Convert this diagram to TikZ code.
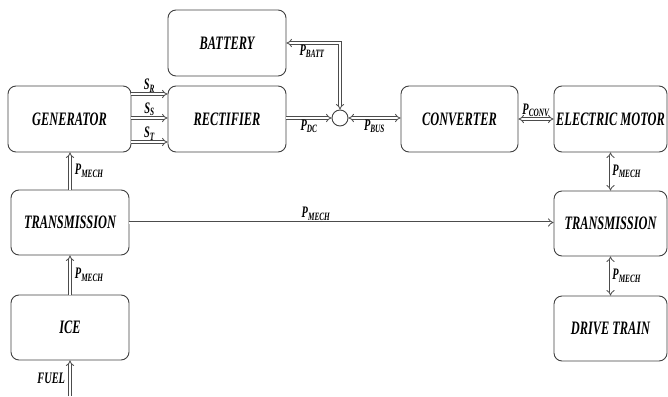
\documentclass[tikz,border=0pt]{standalone}
\usepackage{fontspec}
\setmainfont{LiberationSerif}[Extension=.ttf, UprightFont=*-Regular, BoldFont=*-Bold, ItalicFont=*-Italic, BoldItalicFont=*-BoldItalic, FakeStretch=0.65]
\usetikzlibrary{arrows.meta,positioning,calc}
\newcommand{\pw}[1]{P\textsubscript{#1}}

\begin{document}
\begin{tikzpicture}[x=1pt, y=-1pt,
    blk/.style={draw=black!75, line width=0.9pt, rounded corners=8pt, minimum height=66pt, inner sep=0pt, font=\fontsize{19}{22}\selectfont\bfseries\itshape},
    flow/.style={draw=black!70, line width=0.8pt, double, double distance=2pt, -{Implies}},
    bflow/.style={flow, {Implies}-{Implies}},
    lbl/.style={inner sep=1.5pt, font=\fontsize{16}{18}\selectfont\bfseries\itshape}
]
\useasboundingbox (0,0) rectangle (668,396);

\node[blk, minimum width=118pt] (batt) at (227,43) {BATTERY};
\node[blk, minimum width=123pt] (gen) at (69.5,119) {GENERATOR};
\node[blk, minimum width=118pt] (rect) at (227,119) {RECTIFIER};
\node[draw=black!75, line width=0.9pt, circle, minimum size=16pt, inner sep=0pt] (sum) at (340,118) {};
\node[blk, minimum width=117pt] (conv) at (459.5,119) {CONVERTER};
\node[blk, minimum width=113pt] (mot) at (610.5,119) {ELECTRIC MOTOR};
\node[blk, minimum width=118pt, minimum height=65pt] (ltr) at (70,222.5) {TRANSMISSION};
\node[blk, minimum width=118pt, minimum height=65pt] (ice) at (70,327.5) {ICE};
\node[blk, minimum width=113pt, minimum height=65pt] (rtr) at (610.5,223.5) {TRANSMISSION};
\node[blk, minimum width=113pt, minimum height=65pt] (drv) at (610.5,328.5) {DRIVE TRAIN};
\coordinate (fuel) at (70,396);

% generator phases
\draw[flow] ([yshift=25pt]gen.east) -- ([yshift=25pt]rect.west) node[lbl, midway, above] {S\textsubscript{R}};
\draw[flow] ([yshift=1pt]gen.east) -- ([yshift=1pt]rect.west) node[lbl, midway, above] {S\textsubscript{S}};
\draw[flow] ([yshift=-23pt]gen.east) -- ([yshift=-23pt]rect.west) node[lbl, midway, above] {S\textsubscript{T}};

% dc bus
\draw[flow] (rect.east |- sum) -- (sum.west) node[lbl, midway, below] {\pw{DC}};
\draw[bflow] (batt.east) -| (sum.north) node[lbl, pos=0.24, below] {\pw{BATT}};
\draw[bflow] (sum.east) -- (conv.west |- sum) node[lbl, midway, below] {\pw{BUS}};
\draw[bflow] (conv.east) -- (mot.west) node[lbl, midway, above] {\pw{CONV}};

% mechanical side
\draw[bflow] (mot.south) -- (rtr.north) node[lbl, midway, right] {\pw{MECH}};
\draw[bflow] (rtr.south) -- (drv.north) node[lbl, midway, right] {\pw{MECH}};
\draw[flow] (ltr.east) -- (ltr.east -| rtr.west) node[lbl, pos=0.44, above] {\pw{MECH}};
\draw[flow] (ltr.north) -- (gen.south -| ltr.north) node[lbl, midway, right=3pt] {\pw{MECH}};
\draw[flow] (ice.north) -- (ltr.south) node[lbl, midway, right=3pt] {\pw{MECH}};
\draw[flow] (fuel) -- (ice.south) node[lbl, midway, left=3pt] {FUEL};
\end{tikzpicture}
\end{document}
